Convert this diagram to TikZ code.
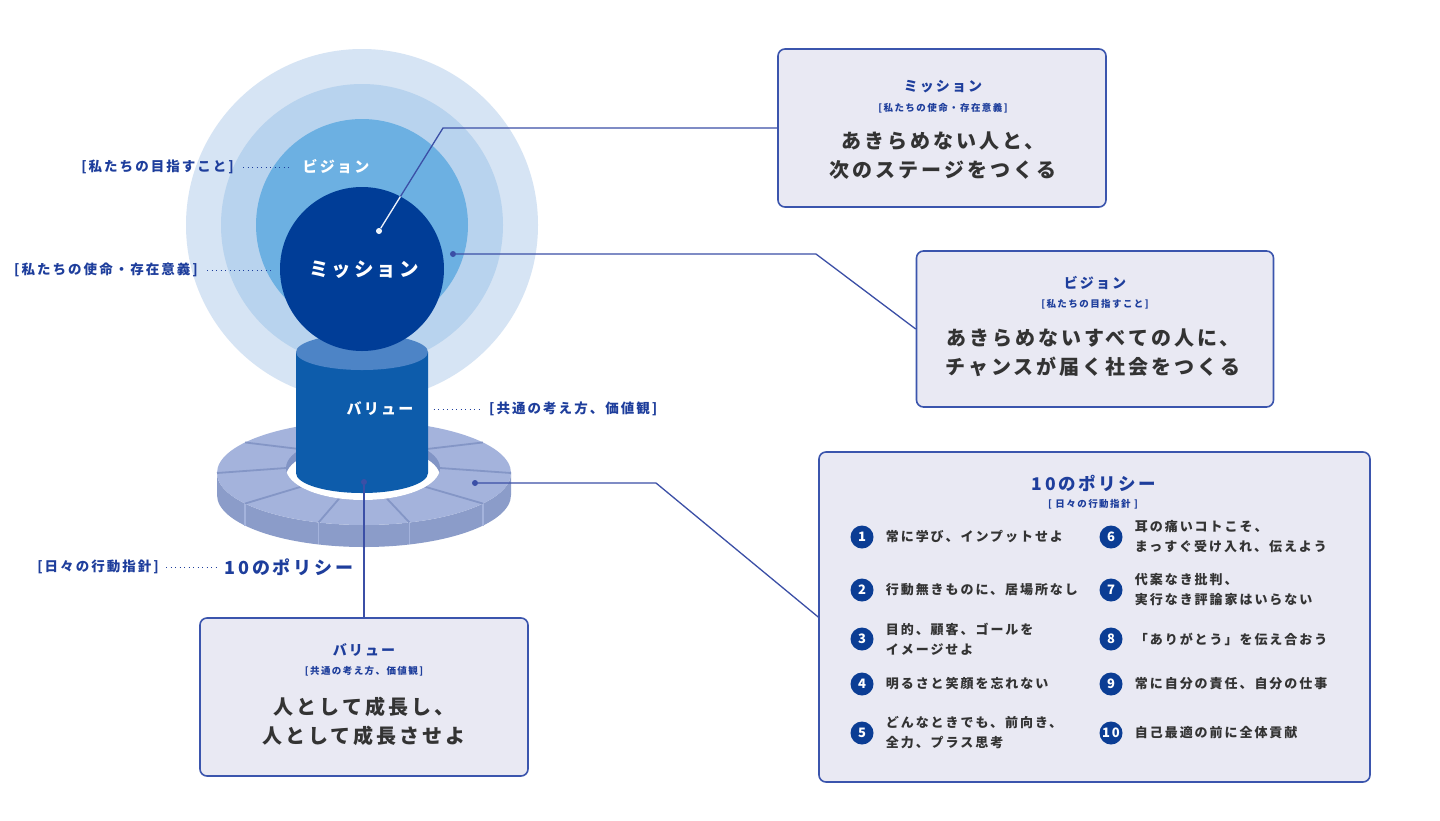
\documentclass[tikz,border=0pt]{standalone}
\usepackage{fontspec}
\setmainfont{Noto Sans CJK JP}[LetterSpace=15, BoldFont={Noto Sans CJK JP Black}]
\usetikzlibrary{positioning}

\definecolor{haloA}{HTML}{D6E4F4}
\definecolor{haloB}{HTML}{B8D3EE}
\definecolor{haloC}{HTML}{6CB0E2}
\definecolor{missionblue}{HTML}{003D97}
\definecolor{pillar}{HTML}{0D5CAB}
\definecolor{pillartop}{HTML}{4D84C6}
\definecolor{ringtop}{HTML}{A4B3DC}
\definecolor{ringwall}{HTML}{8B9CC9}
\definecolor{ringline}{HTML}{8496C6}
\definecolor{holeback}{HTML}{8194C5}
\definecolor{boxfill}{HTML}{E9E9F3}
\definecolor{boxline}{HTML}{3B55AD}
\definecolor{titleblue}{HTML}{1E3E9C}
\definecolor{textgray}{HTML}{333333}
\definecolor{linkblue}{HTML}{3B4FA6}
\definecolor{numblue}{HTML}{0B3D94}

\tikzset{
  box/.style={draw=boxline, line width=1.6pt, fill=boxfill, rounded corners=7pt, inner sep=0pt},
  boxtitle/.style={text=titleblue, font=\bfseries\fontsize{14}{16}\selectfont, inner sep=0pt},
  boxsub/.style={text=titleblue, font=\bfseries\fontsize{9.5}{11}\selectfont, inner sep=0pt},
  boxtext/.style={text=textgray, font=\bfseries\fontsize{20}{29}\selectfont, align=center, inner sep=0pt},
  sidelabel/.style={text=titleblue, font=\bfseries\fontsize{13.5}{15}\selectfont, inner sep=0pt},
  ontext/.style={text=white, font=\bfseries\fontsize{15}{17}\selectfont, inner sep=0pt},
  dots/.style={draw=titleblue, line width=1pt, dash pattern=on 1.2pt off 3.3pt},
  link/.style={draw=linkblue, line width=1.3pt},
  dot/.style={circle, fill=linkblue, inner sep=0pt, minimum size=6pt},
  num/.style={circle, fill=numblue, text=white, inner sep=0pt, minimum size=23pt,
    font=\bfseries\fontsize{13}{13}\selectfont},
  item/.style={text=textgray, font=\bfseries\fontsize{13}{20}\selectfont, align=left, inner sep=0pt},
  sep/.style={draw=ringline, line width=1.8pt},
  wallsep/.style={draw=ringtop, line width=1.4pt}
}

\begin{document}
\begin{tikzpicture}[x=1pt, y=-1pt]
  \fill[white] (0,0) rectangle (1440,820);
  \useasboundingbox (0,0) rectangle (1440,820);

  % halos
  \fill[haloA] (362,225) circle[radius=176];
  \fill[haloB] (362,225) circle[radius=141];
  \fill[haloC] (362,225) circle[radius=106];

  % ring base
  \fill[ringwall] (511,473) arc[start angle=0, end angle=180, x radius=147, y radius=52]
    -- ++(0,22) arc[start angle=180, end angle=0, x radius=147, y radius=52] -- cycle;
  \fill[ringtop] (364,473) ellipse[x radius=147, y radius=52];
  \foreach \a in {0,36,...,324}
    \draw[sep] ({364+147*cos(\a)},{473+52*sin(\a)}) -- ({363+77*cos(\a)},{468+32*sin(\a)});
  \foreach \a in {36,72,108,144}
    \draw[wallsep] ({364+147*cos(\a)},{473+52*sin(\a)}) -- ++(0,22);
  \fill[holeback] (363,468) ellipse[x radius=77, y radius=32];
  \begin{scope}
    \clip (363,468) ellipse[x radius=77, y radius=32];
    \fill[white] (363,477) ellipse[x radius=77, y radius=32];
  \end{scope}

  % pillar
  \fill[pillar] (296,352) -- (296,473) arc[start angle=180, end angle=0, x radius=66, y radius=20]
    -- (428,352) -- cycle;
  \fill[pillartop] (362,352) ellipse[x radius=66, y radius=18];

  % mission sphere
  \fill[missionblue] (362,269) circle[radius=82];

  % boxes
  \node[box, minimum width=328pt, minimum height=158pt] (mission) at (942,128) {};
  \node[box, minimum width=357pt, minimum height=156pt] (vision) at (1095,329) {};
  \node[box, minimum width=551pt, minimum height=330pt] (policy) at (1094.5,617) {};
  \node[box, minimum width=328pt, minimum height=158pt] (value) at (364,697) {};

  % connectors
  \node[dot, fill=white] (mdot) at (379,231) {};
  \coordinate (mbend) at (443,128);
  \draw[link] (mdot) -- (mbend) -- (mission.west);
  \begin{scope}
    \clip (362,269) circle[radius=82];
    \draw[link, draw=white!85!haloC] (mdot) -- (mbend);
  \end{scope}
  \node[dot, fill=white!85!haloC, minimum size=4pt] at (mdot) {};

  \node[dot] (vdot) at (453,254) {};
  \coordinate (vbend) at (816,254);
  \draw[link] (vdot) -- (vbend) -- (vision.west);

  \node[dot] (pdot) at (475,483) {};
  \coordinate (pbend) at (656,483);
  \draw[link] (pdot) -- (pbend) -- (policy.west);

  \node[dot] (valdot) at (364,482) {};
  \draw[link] (valdot) -- (value.north);

  % labels on the figure
  \node[ontext] (vname) at (336,167) {ビジョン};
  \node[sidelabel, anchor=east] (vlabel) at (234,167) {[私たちの目指すこと]};
  \draw[dots, shorten <=9pt, shorten >=11pt] (vlabel.east) -- (vname.west);

  \node[ontext, font=\bfseries\fontsize{19.5}{21}\selectfont] (mname) at (364,270) {ミッション};
  \node[sidelabel, anchor=east] (mlabel) at (198,270) {[私たちの使命・存在意義]};
  \draw[dots, shorten <=9pt, shorten >=35pt] (mlabel.east) -- (mname.west);

  \node[ontext] (valname) at (380,409) {バリュー};
  \node[sidelabel, anchor=west] (vallabel) at (489,409) {[共通の考え方、価値観]};
  \draw[dots, shorten <=20pt, shorten >=8pt] (valname.east) -- (vallabel.west);

  \node[sidelabel, font=\bfseries\fontsize{18}{20}\selectfont] (polname) at (289,567) {10のポリシー};
  \node[sidelabel, anchor=east] (pollabel) at (159,567) {[日々の行動指針]};
  \draw[dots, shorten <=7pt, shorten >=9pt] (pollabel.east) -- (polname.west);

  % box texts
  \node[boxtitle] (mtitle) at (943,87) {ミッション};
  \node[boxsub] (msub) at (943,108) {[私たちの使命・存在意義]};
  \node[boxtext] (mtext) at (943,156) {あきらめない人と、\\次のステージをつくる};

  \node[boxtitle] (vtitle) at (1095,283) {ビジョン};
  \node[boxsub] (vsub) at (1095,304) {[私たちの目指すこと]};
  \node[boxtext] (vtext) at (1093,353) {あきらめないすべての人に、\\チャンスが届く社会をつくる};

  \node[boxtitle] (valtitle) at (364,650) {バリュー};
  \node[boxsub] (valsub) at (364,671) {[共通の考え方、価値観]};
  \node[boxtext] (valtext) at (364,721) {人として成長し、\\人として成長させよ};

  \node[boxtitle, font=\bfseries\fontsize{17.5}{19}\selectfont] (ptitle) at (1094,483) {10のポリシー};
  \node[boxsub] (psub) at (1093,504) {[ 日々の行動指針 ]};

  % policy items
  \foreach \n/\x/\y/\t in {
    1/862/537/{常に学び、インプットせよ},
    2/862/590/{行動無きものに、居場所なし},
    3/862/639/{目的、顧客、ゴールを\\イメージせよ},
    4/862/684/{明るさと笑顔を忘れない},
    5/862/733/{どんなときでも、前向き、\\全力、プラス思考},
    6/1111/537/{耳の痛いコトこそ、\\まっすぐ受け入れ、伝えよう},
    7/1111/590/{代案なき批判、\\実行なき評論家はいらない},
    8/1111/639/{「ありがとう」を伝え合おう},
    9/1111/684/{常に自分の責任、自分の仕事},
    10/1111/733/{自己最適の前に全体貢献}}
  {
    \node[num] (num\n) at (\x,\y) {\n};
    \node[item, right=12pt of num\n] (item\n) {\t};
  }
\end{tikzpicture}
\end{document}
